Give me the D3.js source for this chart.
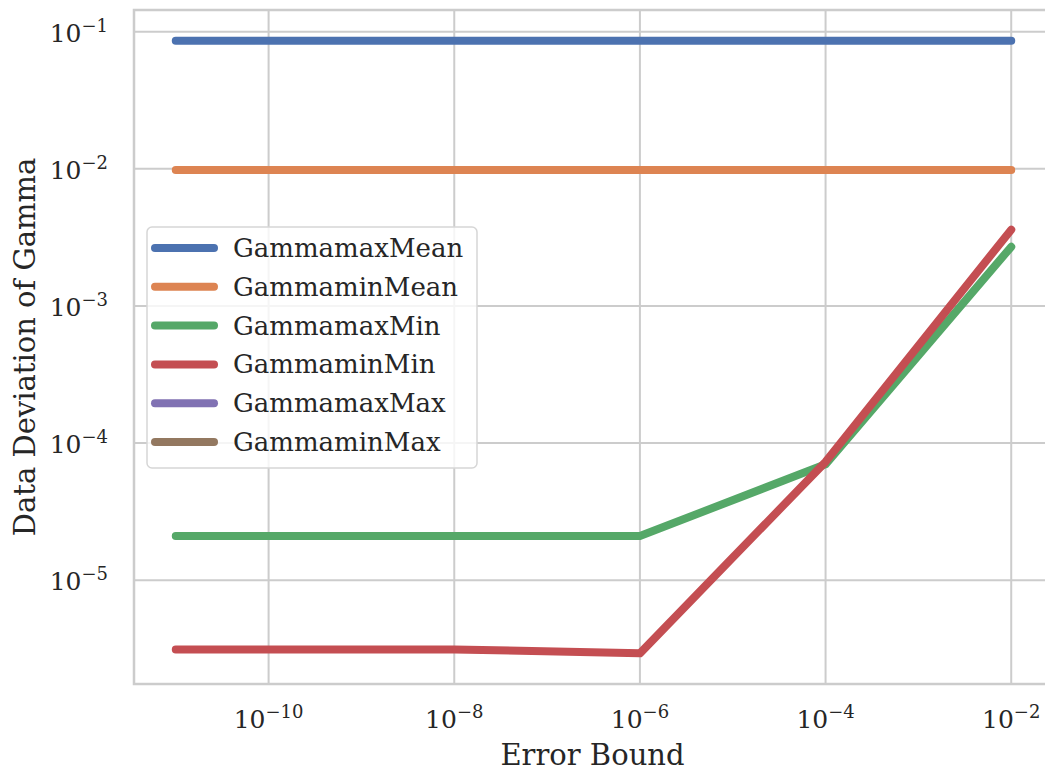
<!DOCTYPE html>
<html>
<head>
<meta charset="utf-8">
<script src="https://cdn.jsdelivr.net/npm/d3@7"></script>
<style>
  body { margin: 0; background: #fff; }
  text { font-family: "DejaVu Serif", serif; fill: #262626; }
</style>
</head>
<body>
<script>
// error bounds on the x axis
var errorBounds = [1e-11, 1e-8, 1e-6, 1e-4, 1e-2];

// one array per series (null = nothing drawn)
var gammamaxMean = [0.086, 0.086, 0.086, 0.086, 0.086];
var gamminMean   = [0.0098, 0.0098, 0.0098, 0.0098, 0.0098];
var gammamaxMin  = [2.1e-5, 2.1e-5, 2.1e-5, 7.0e-5, 2.7e-3];
var gamminMin    = [3.13e-6, 3.13e-6, 2.93e-6, 7.3e-5, 3.6e-3];
var gammamaxMax  = [null, null, null, null, null];
var gamminMax    = [null, null, null, null, null];

var seriesNames = ["GammamaxMean", "GammaminMean", "GammamaxMin", "GammaminMin", "GammamaxMax", "GammaminMax"];
var seriesValues = [gammamaxMean, gamminMean, gammamaxMin, gamminMin, gammamaxMax, gamminMax];
var colors = ["#4c72b0", "#dd8452", "#55a868", "#c44e52", "#8172b3", "#937860"];

var xTicks = [1e-10, 1e-8, 1e-6, 1e-4, 1e-2];
var yTicks = [1e-5, 1e-4, 1e-3, 1e-2, 1e-1];

var width = 1045,
    height = 773;

var margin = {left: 134, top: 10, right: -8, bottom: 89};
var plotW = width - margin.left - margin.right,
    plotH = height - margin.top - margin.bottom;

var svg = d3.select("body").append("svg")
    .attr("width", width)
    .attr("height", height);

// log domains padded by 5% (matplotlib margins)
function padLog(lo, hi) {
    var a = Math.log10(lo), b = Math.log10(hi), m = (b - a) * 0.05;
    return [Math.pow(10, a - m), Math.pow(10, b + m)];
}
var allY = [];
seriesValues.forEach(function(s) { s.forEach(function(v) { if (v != null) allY.push(v); }); });

var x = d3.scaleLog()
    .domain(padLog(d3.min(errorBounds), d3.max(errorBounds)))
    .range([0, plotW]);
var y = d3.scaleLog()
    .domain(padLog(d3.min(allY), d3.max(allY)))
    .range([plotH, 0]);

var g = svg.append("g")
    .attr("transform", "translate(" + margin.left + "," + margin.top + ")");

// grid
g.selectAll(".gx").data(xTicks).enter().append("line")
    .attr("x1", function(d) { return x(d); }).attr("x2", function(d) { return x(d); })
    .attr("y1", 0).attr("y2", plotH)
    .attr("stroke", "#cccccc").attr("stroke-width", 2);
g.selectAll(".gy").data(yTicks).enter().append("line")
    .attr("y1", function(d) { return y(d); }).attr("y2", function(d) { return y(d); })
    .attr("x1", 0).attr("x2", plotW)
    .attr("stroke", "#cccccc").attr("stroke-width", 2);

// frame
g.append("rect")
    .attr("width", plotW).attr("height", plotH)
    .attr("fill", "none").attr("stroke", "#cccccc").attr("stroke-width", 2.5);

// tick labels as 10^n
function powLabel(sel, d) {
    var e = Math.round(Math.log10(d));
    sel.append("tspan").text("10");
    sel.append("tspan").attr("dy", "-0.55em").style("font-size", "18px").text("\u2212" + Math.abs(e));
}

g.selectAll(".xl").data(xTicks).enter().append("text")
    .attr("x", function(d) { return x(d); })
    .attr("y", 728 - margin.top)
    .attr("text-anchor", "middle")
    .style("font-size", "25px")
    .each(function(d) { powLabel(d3.select(this), d); });

g.selectAll(".yl").data(yTicks).enter().append("text")
    .attr("x", -26)
    .attr("y", function(d) { return y(d) + 10; })
    .attr("text-anchor", "end")
    .style("font-size", "25px")
    .each(function(d) { powLabel(d3.select(this), d); });

// axis titles
svg.append("text")
    .attr("x", margin.left + x(1e-11) + (x(1e-2) - x(1e-11)) / 2 - 1)
    .attr("y", 765)
    .attr("text-anchor", "middle")
    .style("font-size", "29px")
    .text("Error Bound");
svg.append("text")
    .attr("transform", "translate(35," + (margin.top + plotH / 2) + ") rotate(-90)")
    .attr("text-anchor", "middle")
    .style("font-size", "29px")
    .text("Data Deviation of Gamma");

// lines
var line = d3.line()
    .defined(function(d) { return d[1] != null; })
    .x(function(d) { return x(d[0]); })
    .y(function(d) { return y(d[1]); });

seriesValues.forEach(function(vals, i) {
    g.append("path")
        .datum(errorBounds.map(function(b, j) { return [b, vals[j]]; }))
        .attr("d", line)
        .attr("fill", "none")
        .attr("stroke", colors[i])
        .attr("stroke-width", 8)
        .attr("stroke-linecap", "round")
        .attr("stroke-linejoin", "round");
});

// legend
var leg = svg.append("g").attr("transform", "translate(147,227)");
leg.append("rect")
    .attr("width", 330).attr("height", 241).attr("rx", 5)
    .attr("fill", "#ffffff").attr("fill-opacity", 0.8)
    .attr("stroke", "#d6d6d6").attr("stroke-width", 1.5);
seriesNames.forEach(function(name, i) {
    var yy = 21 + i * 38.8;
    leg.append("line")
        .attr("x1", 8).attr("x2", 67)
        .attr("y1", yy).attr("y2", yy)
        .attr("stroke", colors[i]).attr("stroke-width", 8)
        .attr("stroke-linecap", "round");
    leg.append("text")
        .attr("x", 86).attr("y", yy + 9)
        .style("font-size", "26px")
        .text(name);
});
</script>
</body>
</html>
